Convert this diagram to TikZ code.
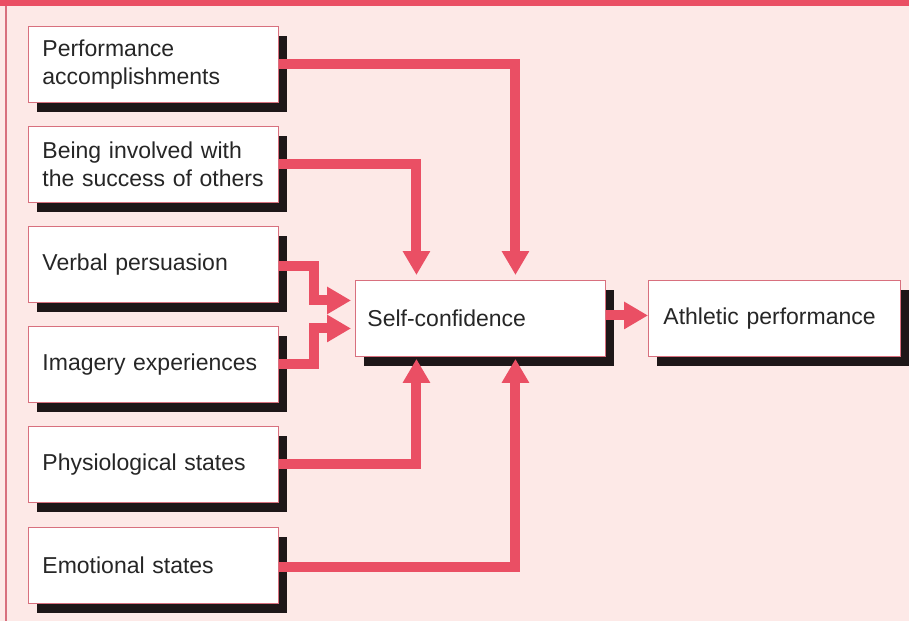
\documentclass[tikz,border=0pt]{standalone}
\usepackage{fontspec}
\setmainfont{Liberation Sans}
\usetikzlibrary{arrows.meta,shadows,calc}
\definecolor{bgpink}{HTML}{FDE9E7}
\definecolor{redc}{HTML}{EA4F64}
\definecolor{bordc}{HTML}{D8707E}
\definecolor{shadowc}{HTML}{1E1718}
\definecolor{textc}{HTML}{262626}
\tikzset{
  box/.style={draw=bordc, line width=0.9pt, fill=white, anchor=north west,
    minimum height=76pt, inner ysep=0pt, inner xsep=14pt, text width=222pt,
    align=left, text=textc,
    font=\fontsize{23}{28}\selectfont,
    drop shadow={shadow xshift=9pt, shadow yshift=-10pt, fill=shadowc, opacity=1}},
  flow/.style={draw=redc, line width=10pt, line join=miter,
    -{Triangle[width=26pt,length=24pt]}}
}
\begin{document}
\begin{tikzpicture}[x=1pt,y=1pt]
\useasboundingbox (0,0) rectangle (909,-621);
\fill[bgpink] (0,0) rectangle (909,-621);
\fill[redc] (0,0) rectangle (909,-6);
\draw[bordc, line width=1.5pt] (6,-6) -- (6,-621);

\node[box] (p1) at (28,-26) {Performance\\accomplishments};
\node[box] (p2) at (28,-126) {\mbox{Being involved with}\\\mbox{the success of others}};
\node[box] (p3) at (28,-226) {Verbal persuasion};
\node[box] (p4) at (28,-326) {Imagery experiences};
\node[box] (p5) at (28,-426) {Physiological states};
\node[box] (p6) at (28,-527) {Emotional states};
\node[box, inner xsep=12pt, text width=226pt] (sc) at (355,-280) {Self-confidence};
\node[box, inner xsep=15pt, text width=222pt] (ap) at (648,-280) {\mbox{Athletic performance}};

\draw[flow] (p1.east) -| ([xshift=35pt,yshift=5pt]sc.north);
\draw[flow] (p2.east) -| ([xshift=-64pt,yshift=5pt]sc.north);
\draw[flow] ([yshift=-2pt]p3.east) -- ++(35pt,0) |- ([xshift=-4pt,yshift=18pt]sc.west);
\draw[flow] (p4.east) -- ++(35pt,0) |- ([xshift=-4pt,yshift=-10pt]sc.west);
\draw[flow] (p5.east) -| ([xshift=-64pt,yshift=-2pt]sc.south);
\draw[flow] ([yshift=-2pt]p6.east) -| ([xshift=35pt,yshift=-2pt]sc.south);
\draw[flow] ([yshift=3pt]sc.east) -- ([yshift=3pt]ap.west);
\end{tikzpicture}
\end{document}
